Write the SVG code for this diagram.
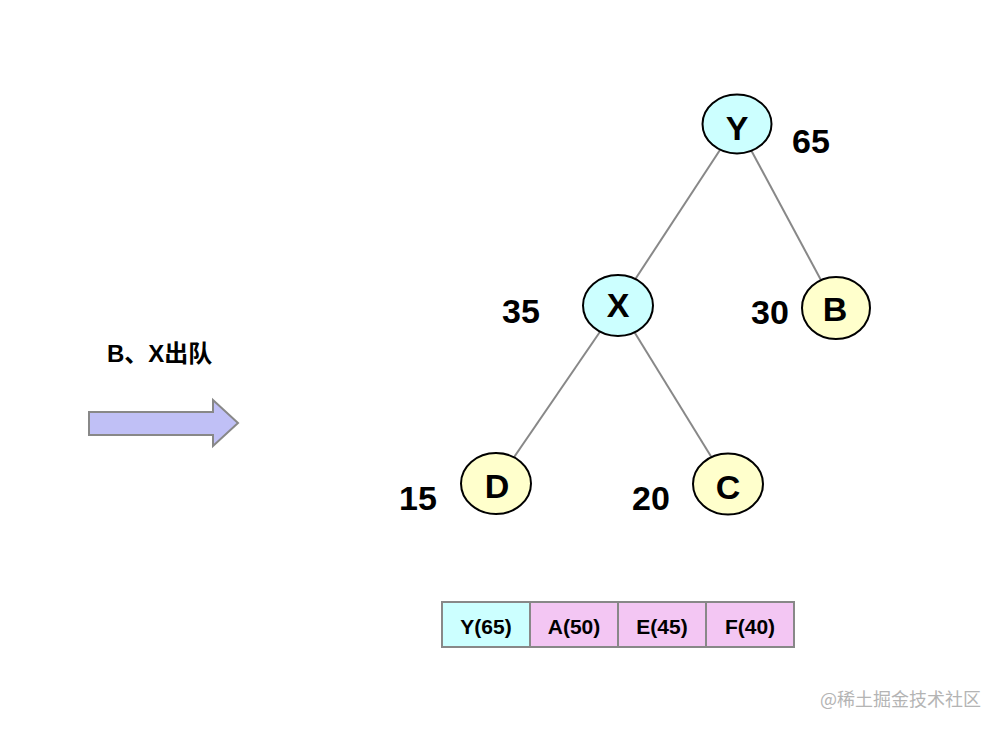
<svg xmlns="http://www.w3.org/2000/svg" width="1002" height="732" viewBox="0 0 1002 732">
<style>
.edge{stroke:#888;stroke-width:2;fill:none}
.node{stroke:#000;stroke-width:2}
.cyan{fill:#ccffff}
.yel{fill:#ffffcc}
.nl{font-family:"Liberation Sans",Arial,sans-serif;font-weight:bold;font-size:34px;text-anchor:middle;fill:#000}
.w{font-family:"Liberation Sans",Arial,sans-serif;font-weight:bold;font-size:34px;fill:#000}
.cell{stroke:#888;stroke-width:2}
.ct{font-family:"Liberation Sans",Arial,sans-serif;font-weight:bold;font-size:21px;text-anchor:middle;fill:#000}
</style>
<rect width="1002" height="732" fill="#fff"/>
<g id="connectors">
<line class="edge" x1="737" y1="124" x2="618" y2="305.5"/>
<line class="edge" x1="737" y1="124" x2="836" y2="308"/>
<line class="edge" x1="618" y1="305.5" x2="496" y2="483.5"/>
<line class="edge" x1="618" y1="305.5" x2="728" y2="484"/>
</g>
<g id="node-Y">
<ellipse class="node cyan" cx="737" cy="124" rx="34.5" ry="29.5"/>
<text class="nl" x="737" y="140">Y</text>
<text class="w" x="792" y="153">65</text>
</g>
<g id="node-X">
<ellipse class="node cyan" cx="618" cy="305.5" rx="35" ry="30.5"/>
<text class="nl" x="618" y="317">X</text>
<text class="w" x="502" y="323">35</text>
</g>
<g id="node-B">
<ellipse class="node yel" cx="836" cy="308" rx="34" ry="31"/>
<text class="nl" x="835" y="321">B</text>
<text class="w" x="751" y="324">30</text>
</g>
<g id="node-D">
<ellipse class="node yel" cx="496" cy="483.5" rx="35" ry="30.5"/>
<text class="nl" x="497" y="498">D</text>
<text class="w" x="399" y="510">15</text>
</g>
<g id="node-C">
<ellipse class="node yel" cx="728" cy="484" rx="35" ry="30.5"/>
<text class="nl" x="728" y="499">C</text>
<text class="w" x="632" y="510">20</text>
</g>
<g id="label">
<text x="107" y="362" font-family="'Liberation Sans','Noto Sans CJK SC',sans-serif" font-weight="bold" font-size="24" fill="#000">B、X出队</text>
</g>
<g id="arrow">
<path d="M89 412 H213 V400 L238 423 L213 446 V435 H89 Z" fill="#c0c0f6" stroke="#888" stroke-width="2"/>
</g>
<g id="queue">
<rect class="cell" x="442" y="602" width="88" height="45" fill="#ccffff"/>
<rect class="cell" x="530" y="602" width="88" height="45" fill="#f3c6f3"/>
<rect class="cell" x="618" y="602" width="88" height="45" fill="#f3c6f3"/>
<rect class="cell" x="706" y="602" width="88" height="45" fill="#f3c6f3"/>
<text class="ct" x="486" y="634">Y(65)</text>
<text class="ct" x="574" y="634">A(50)</text>
<text class="ct" x="662" y="634">E(45)</text>
<text class="ct" x="750" y="634">F(40)</text>
</g>
<text x="820" y="706" font-family="'Noto Sans CJK SC','Liberation Sans',sans-serif" font-size="18" fill="#b4b4b4">@稀土掘金技术社区</text>
</svg>
